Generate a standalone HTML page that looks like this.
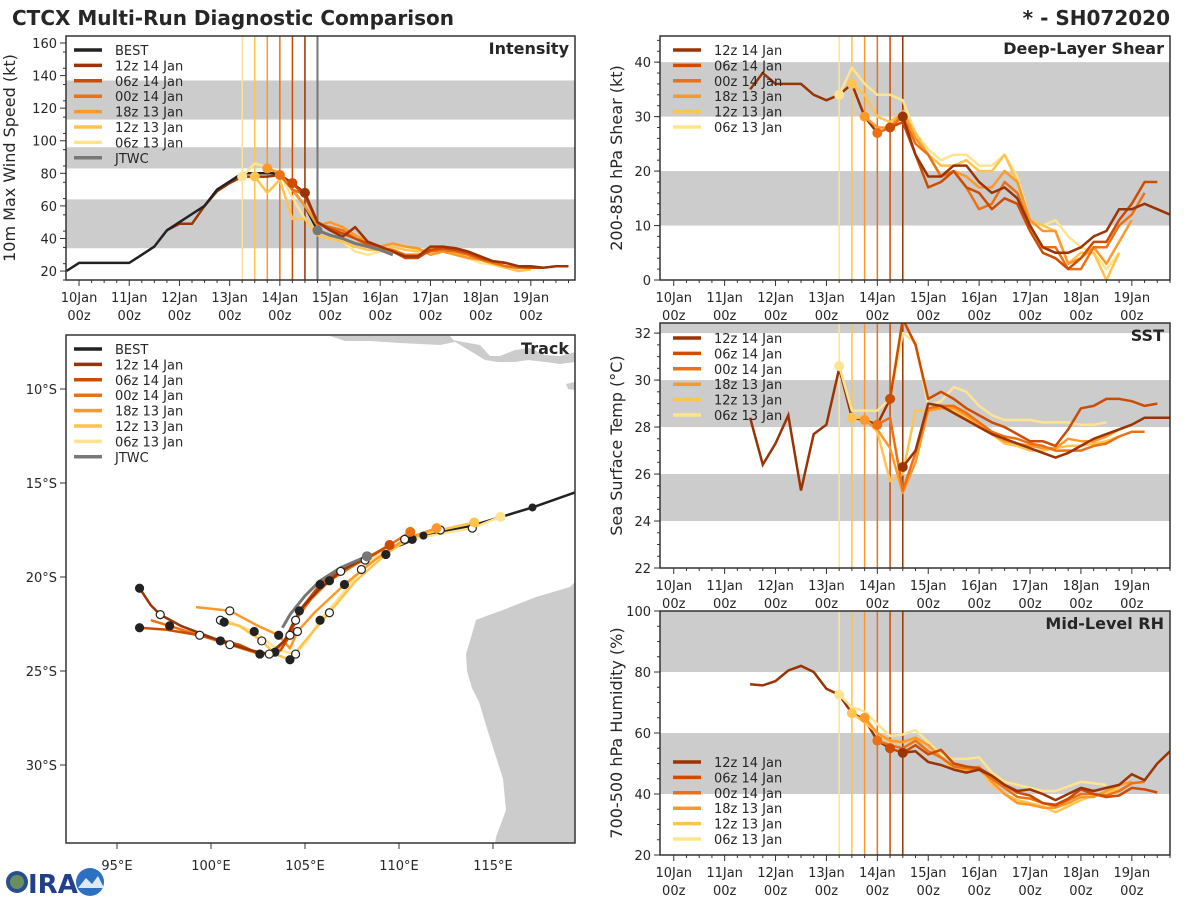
<!DOCTYPE html>
<html><head><meta charset="utf-8"><style>
body{margin:0;background:#fff;}
svg text{font-family:"DejaVu Sans","Liberation Sans",sans-serif;fill:#262626;}
</style></head><body>
<svg id="chart" width="1200" height="900" viewBox="0 0 1200 900" xmlns="http://www.w3.org/2000/svg">
<text x="12" y="25" font-size="20" font-weight="bold">CTCX Multi-Run Diagnostic Comparison</text>
<text x="1170" y="25" font-size="20" font-weight="bold" text-anchor="end">* - SH072020</text>
<g>
<circle cx="17" cy="882" r="11" fill="#2a4f8f"/><circle cx="17" cy="882" r="7" fill="#6a8f5f"/>
<text x="28" y="893" font-size="26" font-weight="bold" style="fill:#22408a">IRA</text>
<circle cx="90" cy="882" r="14" fill="#2d6fc0"/><path d="M78 888 L86 878 L92 884 L98 876 L104 888 Z" fill="#dfe9f5"/>
</g>
<g id="panels"></g>
</svg>
<script>
// ---------- data ----------
const runLabels=["12z 14 Jan","06z 14 Jan","00z 14 Jan","18z 13 Jan","12z 13 Jan","06z 13 Jan"];
const runInit=[4.5,4.25,4.0,3.75,3.5,3.25];
const jtwcInit=4.75;
const bestT=[-0.25,0,0.25,0.5,0.75,1,1.25,1.5,1.75,2,2.25,2.5,2.75,3,3.25,3.5,3.75,4,4.25,4.5,4.75];
const bestV=[20,25,25,25,25,25,30,35,45,50,55,60,70,75,80,80,80,80,70,60,45];
const jtwcV=[45,42,40,37,35,33,30];
const int12z14=[68,50,45,41,47,38,35,32,29,29,35,35,34,32,29,26,25,23,23,22,23,23];
const int06z14=[74,66,50,46,43,40,37,35,32,28,28,33,34,33,31,28,26,25,23,22,22];
const int00z14=[79,70,67,49,47,45,40,36,34,33,30,30,32,33,32,30,27,25,23,22,22];
const int18z13=[83,80,70,60,48,50,47,42,38,35,37,35,34,30,32,30,28,27,25,23,22,22];
const int12z13=[78,68,76,52,52,42,40,38,35,33,33,35,33,32,34,33,31,28,27,24,22,20,21];
const int06z13=[78,86,84,80,65,52,42,40,38,32,30,32,33,35,33,32,32,30,28,25,24,22,21];
const intHist12z14=[45,49,49,60,69,74,78,78,78,79,74,68];
const shrHist=[35,38,36,36,36,34,33,34,36,30,27,28];
const shr12z14=[30,23,19,19,21,21,18,16,17,15,10,6,5,5,6,8,9,13,13,14,13,12];
const shr06z14=[28,29,23,17,18,20,17,16,13,15,14,9,5,4,2,4,7,7,11,14,18,18];
const shr00z14=[27,28,30,25,23,19,20,17,13,14,18,16,10,6,6,2,2,6,6,10,12,16];
const shr18z13=[30,28,28,31,26,23,19,20,19,17,17,20,18,11,9,9,3,4,6,3,7,11];
const shr12z13=[36,34,30,29,31,27,23,21,21,22,20,20,23,18,11,10,9,3,5,5,0,5];
const shr06z13=[34,39,36,34,34,33,27,24,22,23,23,21,21,23,19,11,10,11,8,6,5,2,5];
const sstHist=[28.4,26.4,27.3,28.5,25.3,27.7,28.1,30.5,28.4,28.3,28.1,29.2];
const sst12z14=[26.3,27.0,29.0,28.9,28.6,28.3,28.0,27.7,27.5,27.3,27.1,26.9,26.7,26.9,27.2,27.5,27.7,27.9,28.1,28.4,28.4,28.4];
const sst06z14=[29.2,32.6,31.5,29.2,29.5,29.2,28.8,28.5,28.2,28.0,27.7,27.4,27.4,27.2,27.9,28.8,28.9,29.2,29.2,29.1,28.9,29.0];
const sst00z14=[28.1,28.4,25.3,26.9,28.8,28.9,28.9,28.6,28.2,27.8,27.6,27.5,27.3,27.2,27.0,27.0,27.0,27.2,27.3,27.6,27.8,27.8];
const sst18z13=[28.3,27.9,27.1,25.2,26.5,28.7,28.8,28.8,28.5,28.1,27.7,27.4,27.3,27.2,27.1,27.1,27.5,27.4,27.4,27.6,27.9,28.1];
const sst12z13=[28.4,28.4,27.8,25.7,26.0,28.7,28.7,28.8,28.7,28.4,28.0,27.7,27.3,27.2,27.0,27.0,27.1,27.2,27.2,27.3,27.4,27.6];
const sst06z13=[30.6,28.7,28.7,28.7,29.2,32.0,31.6,28.9,29.1,29.7,29.5,28.9,28.5,28.3,28.3,28.3,28.2,28.2,28.2,28.1,28.1,28.2];
const rhHist=[76,75.6,77,80.5,82,80,74.5,72.5,66.5,64.5,57.5,55];
const rh12z14=[53.5,54,50.5,49.5,48,47,48,46,43,41,41.5,40,38,40,42,41,42,43,46.5,44.5,50,54];
const rh06z14=[55,53.5,56,53,54.5,50,49,48.5,46,43,40.5,39.5,37,36.5,38.5,41.5,40,39,39.5,42,41.5,40.5];
const rh00z14=[57.5,56,55,57.5,54,52,49,48.5,48,45,42,39,38.5,37,36,38,40,40,39.5,41,43.5,44];
const rh18z13=[65,60,57.5,57,58.5,56,52,49,48,49,44,40,37,36.5,35.5,35.5,37,39,39,41,43,44];
const rh12z13=[66.5,63.5,60,57,57,58,56,52,48,48,48.5,43,40,38,37,36,34,36,38,39.5,40,42];
const rh06z13=[72.5,68.5,67,63,59,59.5,61,57,53,51.5,51.5,52,47,44,43,42,41,41,42.5,44,43.5,43];
// track (lon E, lat S)
const bestLon=[120.5,117.1,113.8,111.3,110.1,108.3];
const bestLat=[15.1,16.3,17.3,17.8,18.3,18.9];
const trkLon12z14=[108.3,106.9,105.7,104.7,103.9,103.1,102.1,100.5,98.4,97.3,96.8,96.2];
const trkLat12z14=[18.9,19.7,20.7,21.8,23.4,24.1,23.9,23.4,22.6,22.0,21.5,20.6];
const trkLon06z14=[109.5,108.2,106.9,105.8,104.7,104.2,103.7,102.6,101.5,99.4,97.6,96.2];
const trkLat06z14=[18.3,19.1,19.6,20.4,21.8,23.1,23.9,24.1,23.6,23.1,22.8,22.7];
const trkLon00z14=[110.6,109.5,107.9,106.3,105.3,104.5,103.9,103.4,102.6,101.0,99.4,97.8,96.8];
const trkLat00z14=[17.6,18.3,19.2,20.2,21.2,22.3,23.4,24.0,24.1,23.6,23.1,22.6,22.3];
const trkLon18z13=[112.0,110.3,108.7,107.1,105.5,104.6,104.2,103.6,102.5,101.0,99.2];
const trkLat18z13=[17.4,18.0,19.1,20.4,21.9,22.9,23.8,23.1,22.6,21.8,21.6];
const trkLon12z13=[114.0,112.2,110.6,109.3,107.7,106.3,105.0,104.2,103.4,102.7,101.5,100.7];
const trkLat12z13=[17.1,17.5,17.9,18.8,20.2,21.9,23.4,24.4,24.1,23.4,22.6,22.4];
const trkLon06z13=[115.4,113.9,112.2,110.7,109.0,108.0,106.9,105.8,105.1,104.5,103.6,102.3,101.0,100.5];
const trkLat06z13=[16.8,17.4,17.7,18.0,18.7,19.6,21.0,22.3,23.4,24.1,23.9,22.9,22.4,22.3];
const jtwcLon=[108.3,106.9,105.8,105.0,104.2,103.8];
const jtwcLat=[18.9,19.5,20.2,21.0,22.0,22.7];
const dayTicks=["10Jan","11Jan","12Jan","13Jan","14Jan","15Jan","16Jan","17Jan","18Jan","19Jan"];
const lonTicks=[95,100,105,110,115];
const latTicks=[10,15,20,25,30];

// ---------- rendering ----------
const NS="http://www.w3.org/2000/svg";
const root=document.getElementById('panels');
const colors=["#993404","#cc4c02","#ec7014","#fe9929","#fec44f","#fee391"];
function mk(tag,attrs,parent){const e=document.createElementNS(NS,tag);for(const k in attrs)e.setAttribute(k,attrs[k]);(parent||root).appendChild(e);return e;}
function pts(arrT,arrV,xs,ys){return arrV.map((v,i)=>xs(arrT[i]).toFixed(1)+","+ys(v).toFixed(1)).join(" ");}
function tsteps(t0,n){const a=[];for(let i=0;i<n;i++)a.push(t0+0.25*i);return a;}

function timePanel(cfg){
  const g=mk('g',{});
  
  
  const {x0,x1,y0,y1,vmin,vmax,d0,d1}=cfg;
  const xs=d=>x0+(d-d0)/(d1-d0)*(x1-x0);
  const ys=v=>y1-(v-vmin)/(vmax-vmin)*(y1-y0);
  cfg.bands.forEach(b=>{const r=mk('rect',{x:x0,y:ys(Math.min(b[1],vmax)),width:x1-x0,height:ys(b[0])-ys(Math.min(b[1],vmax)),fill:'#cccccc'},g);
    });
  for(let d=0;d<=9.75;d+=0.25){const X=xs(d);const maj=Math.abs(d-Math.round(d))<1e-6;
    mk('line',{x1:X,x2:X,y1:y1,y2:y1+(maj?6:3),stroke:'#333','stroke-width':1},g);}
  dayTicks.forEach((lab,i)=>{const t=mk('text',{x:xs(i),y:y1+22,'font-size':13,'text-anchor':'middle'},g);t.textContent=lab;
    
    const t2=mk('text',{x:xs(i),y:y1+40,'font-size':13,'text-anchor':'middle'},g);t2.textContent="00z";
    });
  for(let v=vmin;v<=vmax+1e-6;v+=cfg.minor){const Y=ys(v);mk('line',{x1:x0,x2:x0-3,y1:Y,y2:Y,stroke:'#333','stroke-width':1},g);}
  cfg.yticks.forEach(v=>{const Y=ys(v);if(Y<y0-1)return;mk('line',{x1:x0,x2:x0-6,y1:Y,y2:Y,stroke:'#333','stroke-width':1},g);
    const t=mk('text',{x:x0-9,y:Y+5,'font-size':13,'text-anchor':'end'},g);t.textContent=v;
    });
  const yl=mk('text',{x:0,y:0,'font-size':16,'text-anchor':'middle',transform:`translate(${cfg.ylx},${(y0+y1)/2}) rotate(-90)`},g);
  yl.textContent=cfg.ylabel;
  runInit.forEach((d,i)=>{const l=mk('line',{x1:xs(d),x2:xs(d),y1:y0,y2:y1,stroke:colors[i],'stroke-width':1.5},g);
    });
  if(cfg.jtwc){const l=mk('line',{x1:xs(jtwcInit),x2:xs(jtwcInit),y1:y0,y2:y1,stroke:'#777','stroke-width':2},g);
    }
  const clip='clip-'+cfg.name;
  const cp=mk('clipPath',{id:clip},g);mk('rect',{x:x0,y:y0,width:x1-x0,height:y1-y0},cp);
  const sg=mk('g',{'clip-path':`url(#${clip})`},g);
  if(cfg.hist){const l=mk('polyline',{points:pts(tsteps(cfg.histStart,cfg.hist.length),cfg.hist,xs,ys),fill:'none',stroke:colors[0],'stroke-width':2.5},sg);
    }
  if(cfg.best){const l=mk('polyline',{points:pts(bestT,bestV,xs,ys),fill:'none',stroke:'#222','stroke-width':2.5},sg);
    }
  for(let i=5;i>=0;i--){const s=cfg.series[i];const T=tsteps(runInit[i],s.length);
    const l=mk('polyline',{points:pts(T,s,xs,ys),fill:'none',stroke:colors[i],'stroke-width':2.5,'stroke-linejoin':'round'},sg);
    }
  if(cfg.jtwc){const l=mk('polyline',{points:pts(tsteps(jtwcInit,jtwcV.length),jtwcV,xs,ys),fill:'none',stroke:'#777','stroke-width':3},sg);
    
    const c=mk('circle',{cx:xs(jtwcInit),cy:ys(jtwcV[0]),r:5,fill:'#777'},sg);}
  for(let i=5;i>=0;i--){const c=mk('circle',{cx:xs(runInit[i]),cy:ys(cfg.series[i][0]),r:5,fill:colors[i]},sg);
    }
  mk('rect',{x:x0,y:y0,width:x1-x0,height:y1-y0,fill:'none',stroke:'#333','stroke-width':1.5},g);
  const tt=mk('text',{x:x1-6,y:y0+18,'font-size':16,'font-weight':'bold','text-anchor':'end'},g);tt.textContent=cfg.title;
  
  legend(g,cfg.legX,cfg.legY,cfg.jtwc);
}
function legend(g,lx,ly,full){
  const items=[];if(full)items.push(["BEST","#222"]);
  runLabels.forEach((l,i)=>items.push([l,colors[i]]));if(full)items.push(["JTWC","#777"]);
  items.forEach((it,k)=>{const Y=ly+k*15.4;
    const e=mk('g',{},g);
    mk('line',{x1:lx,x2:lx+28,y1:Y,y2:Y,stroke:it[1],'stroke-width':3.5},e);
    const t=mk('text',{x:lx+41,y:Y+5,'font-size':13},e);t.textContent=it[0];});
}
timePanel({name:'intensity-panel',x0:66,x1:575,y0:36,y1:280,vmin:14.5,vmax:164.3,d0:-0.26,d1:9.88,minor:10,
  yticks:[20,40,60,80,100,120,140,160],bands:[[34,64],[83,96],[113,137]],ylabel:'10m Max Wind Speed (kt)',ylx:15,
  title:'Intensity',series:[int12z14,int06z14,int00z14,int18z13,int12z13,int06z13],best:true,jtwc:true,hist:intHist12z14,histStart:1.75,legX:74,legY:50});
timePanel({name:'shear-panel',x0:660,x1:1170,y0:36,y1:280,vmin:0,vmax:44.8,d0:-0.27,d1:9.75,minor:2,
  yticks:[0,10,20,30,40],bands:[[10,20],[30,40]],ylabel:'200-850 hPa Shear (kt)',ylx:622,
  title:'Deep-Layer Shear',series:[shr12z14,shr06z14,shr00z14,shr18z13,shr12z13,shr06z13],hist:shrHist,histStart:1.5,legX:673,legY:50});
timePanel({name:'sst-panel',x0:660,x1:1170,y0:323,y1:568,vmin:22,vmax:32.43,d0:-0.27,d1:9.75,minor:0.5,
  yticks:[22,24,26,28,30,32],bands:[[24,26],[28,30],[32,33]],ylabel:'Sea Surface Temp (°C)',ylx:622,
  title:'SST',series:[sst12z14,sst06z14,sst00z14,sst18z13,sst12z13,sst06z13],hist:sstHist,histStart:1.5,legX:673,legY:338});
timePanel({name:'rh-panel',x0:660,x1:1170,y0:611,y1:855,vmin:20,vmax:100,d0:-0.27,d1:9.75,minor:5,
  yticks:[20,40,60,80,100],bands:[[40,60],[80,100]],ylabel:'700-500 hPa Humidity (%)',ylx:622,
  title:'Mid-Level RH',series:[rh12z14,rh06z14,rh00z14,rh18z13,rh12z13,rh06z13],hist:rhHist,histStart:1.5,legX:673,legY:762});

// ---------- track panel ----------
(function(){
  const g=mk('g',{});
  const x0=66,x1=575,y0=335,y1=843;
  const lx=lon=>117+(lon-95)*18.8, ly=lat=>389+(lat-10)*18.8;
  const cp=mk('clipPath',{id:'clip-track'},g);mk('rect',{x:x0,y:y0,width:x1-x0,height:y1-y0},cp);
  const sg=mk('g',{'clip-path':'url(#clip-track)'},g);
  const land1=mk('path',{d:"M575 582 L570 587 L536 597 L503 610 L489 615 L476 620 L472 634 L466 654 L467 671 L472 688 L479 702 L489 735 L497 760 L503 779 L506 810 L496 837 L494 850 L580 850 Z",fill:'#cccccc'},sg);
  
  const land2=mk('path',{d:"M330 336 L450 336 L455 342 L440 345 L400 343 L370 341 L345 341 Z M452 340 L480 345 L490 356 L500 356 L515 350 L530 348 L545 355 L560 356 L575 352 L575 362 L560 364 L545 362 L528 360 L515 362 L498 362 L485 360 L472 352 Z M566 384 L575 382 L575 390 L568 389 Z",fill:'#cccccc'},sg);
  
  const tr=[[trkLon12z14,trkLat12z14],[trkLon06z14,trkLat06z14],[trkLon00z14,trkLat00z14],[trkLon18z13,trkLat18z13],[trkLon12z13,trkLat12z13],[trkLon06z13,trkLat06z13]];
  function line(lons,lats,col,w,name){const p=lons.map((v,i)=>lx(v).toFixed(1)+","+ly(lats[i]).toFixed(1)).join(" ");
    const l=mk('polyline',{points:p,fill:'none',stroke:col,'stroke-width':w,'stroke-linejoin':'round'},sg);
    }
  line(bestLon,bestLat,'#222',2.5,'best-track');
  for(let i=5;i>=0;i--)line(tr[i][0],tr[i][1],colors[i],2.5,'track-'+runLabels[i].replace(/ /g,'-').toLowerCase());
  line(jtwcLon,jtwcLat,'#777',3,'jtwc-track');
  for(let i=5;i>=0;i--){const [lo,la]=tr[i];
    for(let k=1;k<lo.length;k+=2){const c=mk('circle',{cx:lx(lo[k]),cy:ly(la[k]),r:4,fill:(k%4===1)?'#fff':'#222',stroke:'#222','stroke-width':1.2},sg);
      }
    const c=mk('circle',{cx:lx(lo[0]),cy:ly(la[0]),r:5,fill:colors[i]},sg);}
  [1,3].forEach(k=>{const c=mk('circle',{cx:lx(bestLon[k]),cy:ly(bestLat[k]),r:4,fill:'#222'},sg);});
  const jc=mk('circle',{cx:lx(jtwcLon[0]),cy:ly(jtwcLat[0]),r:5,fill:'#777'},sg);
  mk('rect',{x:x0,y:y0,width:x1-x0,height:y1-y0,fill:'none',stroke:'#333','stroke-width':1.5},g);
  lonTicks.forEach(v=>{const X=lx(v);mk('line',{x1:X,x2:X,y1:y1,y2:y1+6,stroke:'#333'},g);
    const t=mk('text',{x:X,y:y1+27,'font-size':13,'text-anchor':'middle'},g);t.textContent=v+"°E";
    });
  latTicks.forEach(v=>{const Y=ly(v);mk('line',{x1:x0,x2:x0-6,y1:Y,y2:Y,stroke:'#333'},g);
    const t=mk('text',{x:x0-9,y:Y+5,'font-size':13,'text-anchor':'end'},g);t.textContent=v+"°S";
    });
  const tt=mk('text',{x:x1-6,y:y0+19,'font-size':16,'font-weight':'bold','text-anchor':'end'},g);tt.textContent='Track';
  
  legend(g,74,349,true);
})();
</script>
</body></html>
